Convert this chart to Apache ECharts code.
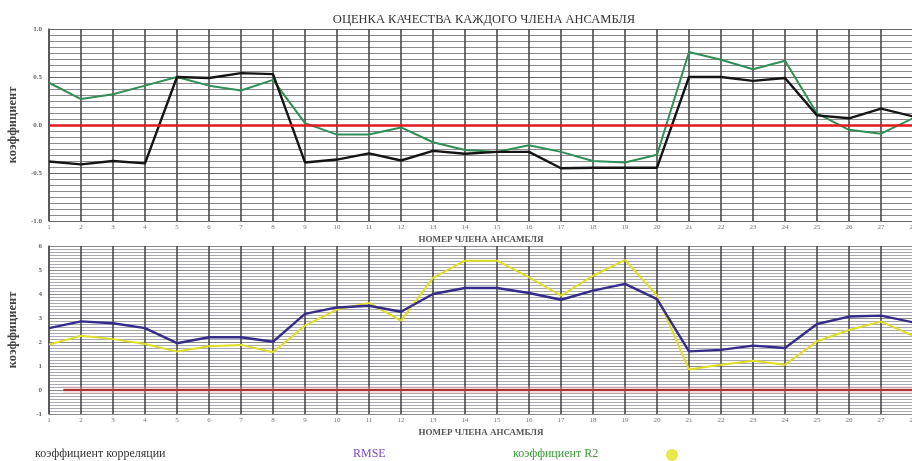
<!DOCTYPE html>
<html><head><meta charset="utf-8">
<script src="https://cdn.jsdelivr.net/npm/echarts@6/dist/echarts.min.js"></script>
<style>html,body{margin:0;padding:0;background:#fff}#c{width:912px;height:461px}</style>
</head><body><div id="c"></div>
<script>
const categories = [1,2,3,4,5,6,7,8,9,10,11,12,13,14,15,16,17,18,19,20,21,22,23,24,25,26,27,28];
const correlation = [-0.38,-0.41,-0.375,-0.40,0.50,0.49,0.54,0.53,-0.39,-0.36,-0.295,-0.37,-0.27,-0.30,-0.28,-0.28,-0.45,-0.445,-0.445,-0.445,0.50,0.50,0.46,0.49,0.10,0.07,0.17,0.09];
const r2 = [0.44,0.27,0.32,0.41,0.50,0.41,0.36,0.47,0.02,-0.10,-0.10,-0.025,-0.18,-0.26,-0.28,-0.21,-0.28,-0.375,-0.39,-0.31,0.76,0.68,0.58,0.67,0.12,-0.05,-0.09,0.07];
const rmse = [2.58,2.86,2.78,2.58,1.95,2.2,2.2,2.01,3.17,3.44,3.51,3.26,4.0,4.25,4.25,4.04,3.76,4.14,4.42,3.79,1.61,1.67,1.85,1.75,2.75,3.06,3.1,2.82];
const yellowSeries = [1.89,2.26,2.12,1.92,1.6,1.82,1.88,1.57,2.68,3.35,3.63,2.89,4.67,5.39,5.39,4.69,3.93,4.76,5.42,3.93,0.85,1.05,1.22,1.05,2.03,2.5,2.85,2.26];
const topTicks = [-1.0,-0.5,0.0,0.5,1.0];
const bottomTicks = [-1,0,1,2,3,4,5,6];
const titleText = 'ОЦЕНКА КАЧЕСТВА КАЖДОГО ЧЛЕНА АНСАМБЛЯ';
const xName = 'НОМЕР ЧЛЕНА АНСАМБЛЯ';
const yName = 'коэффициент';
const names = ['коэффициент корреляции','RMSE','коэффициент R2','yellow'];

const pairs = arr => categories.map((c,i)=>[c, arr[i]]);
const SERIF = '"Liberation Serif","DejaVu Serif",serif';

function xAxis(idx){
  return {
    gridIndex: idx, type:'value', min: categories[0], max: categories[categories.length-1], interval:1,
    axisLine:{show:false}, axisTick:{show:false},
    axisLabel:{fontSize:7, color:'#777', margin:3, fontFamily:SERIF, showMaxLabel:true},
    splitLine:{show:true, lineStyle:{color:'#4a4a4a', width:1.6}},
    name:xName, nameLocation:'middle', nameGap:14,
    nameTextStyle:{fontSize:9, fontWeight:'bold', color:'#555', fontFamily:SERIF}
  };
}
const option = {
  animation:false,
  backgroundColor:'#fff',
  title:{text:titleText, left:479, textAlign:'center', top:8,
    textStyle:{fontSize:12.5, fontWeight:'normal', color:'#333', fontFamily:SERIF}},
  grid:[
    {left:49, top:29, width:864, height:192, show:false, outerBoundsMode:'none', containLabel:false},
    {left:49, top:246, width:864, height:168, show:false, outerBoundsMode:'none', containLabel:false}
  ],
  xAxis:[xAxis(0), xAxis(1)],
  yAxis:[
    {gridIndex:0, type:'value', min:topTicks[0], max:topTicks[topTicks.length-1], interval:0.5,
     axisLine:{show:true, lineStyle:{color:'#555', width:1.5}}, axisTick:{show:false},
     axisLabel:{fontSize:7, fontWeight:'bold', color:'#666', margin:7, fontFamily:SERIF, formatter:v=>v.toFixed(1)},
     splitLine:{show:true, lineStyle:{color:'#666', width:1.2}},
     minorTick:{show:false, splitNumber:8},
     minorSplitLine:{show:true, lineStyle:{color:'#8a8a8a', width:1}},
     name:yName, nameLocation:'middle', nameGap:30, nameRotate:90,
     nameTextStyle:{fontSize:12.5, fontWeight:'bold', color:'#444', fontFamily:SERIF}},
    {gridIndex:1, type:'value', min:bottomTicks[0], max:bottomTicks[bottomTicks.length-1], interval:1,
     axisLine:{show:true, lineStyle:{color:'#555', width:1.5}}, axisTick:{show:false},
     axisLabel:{fontSize:7, fontWeight:'bold', color:'#666', margin:7, fontFamily:SERIF},
     splitLine:{show:true, lineStyle:{color:'#8a8a8a', width:1}},
     minorTick:{show:false, splitNumber:8},
     minorSplitLine:{show:true, lineStyle:{color:'#aaa8b4', width:1}},
     name:yName, nameLocation:'middle', nameGap:30, nameRotate:90,
     nameTextStyle:{fontSize:12.5, fontWeight:'bold', color:'#444', fontFamily:SERIF}}
  ],
  legend:[
    {left:25, top:442, icon:'none', itemWidth:0, itemGap:0, data:[{name:names[0], textStyle:{color:'#333'}}],
     textStyle:{fontSize:12, fontFamily:SERIF}},
    {left:343, top:442, icon:'none', itemWidth:0, data:[{name:names[1], textStyle:{color:'#7a4ac0'}}],
     textStyle:{fontSize:12, fontFamily:SERIF}},
    {left:503, top:442, icon:'none', itemWidth:0, data:[{name:names[2], textStyle:{color:'#3a9a3a'}}],
     textStyle:{fontSize:12, fontFamily:SERIF}},
    {left:661, top:444, icon:'circle', itemWidth:12, itemHeight:12, formatter:()=>'', data:[names[3]]}
  ],
  series:[
    {name:names[0], type:'line', xAxisIndex:0, yAxisIndex:0, data:pairs(correlation), symbol:'none',
     lineStyle:{color:'#151515', width:2.4}, itemStyle:{color:'#151515'}, z:4,
     markLine:{silent:true, symbol:'none', label:{show:false},
       lineStyle:{color:'#e21a1a', width:2.5, type:'solid'}, data:[{yAxis:0}]}},
    {name:names[2], type:'line', xAxisIndex:0, yAxisIndex:0, data:pairs(r2), symbol:'none',
     lineStyle:{color:'#2f8f55', width:2}, itemStyle:{color:'#2f8f55'}, z:3},
    {name:names[3], type:'line', xAxisIndex:1, yAxisIndex:1, data:pairs(yellowSeries), symbol:'none',
     lineStyle:{color:'#dede22', width:2}, itemStyle:{color:'#e8e84a'}, z:3,
     markArea:{silent:true, itemStyle:{color:'rgba(235,150,150,0.35)'},
       data:[[{coord:[1.45,-0.15]},{coord:[28,0.15]}]]},
     markLine:{silent:true, symbol:'none', label:{show:false},
       lineStyle:{color:'#a83636', width:2, type:'solid'},
       data:[[{coord:[1.45,0]},{coord:[28,0]}]]}},
    {name:names[1], type:'line', xAxisIndex:1, yAxisIndex:1, data:pairs(rmse), symbol:'none',
     lineStyle:{color:'#352c8a', width:2.4}, itemStyle:{color:'#352c8a'}, z:4}
  ]
};
const chart = echarts.init(document.getElementById('c'), null, {renderer:'canvas'});
chart.setOption(option);
</script></body></html>
